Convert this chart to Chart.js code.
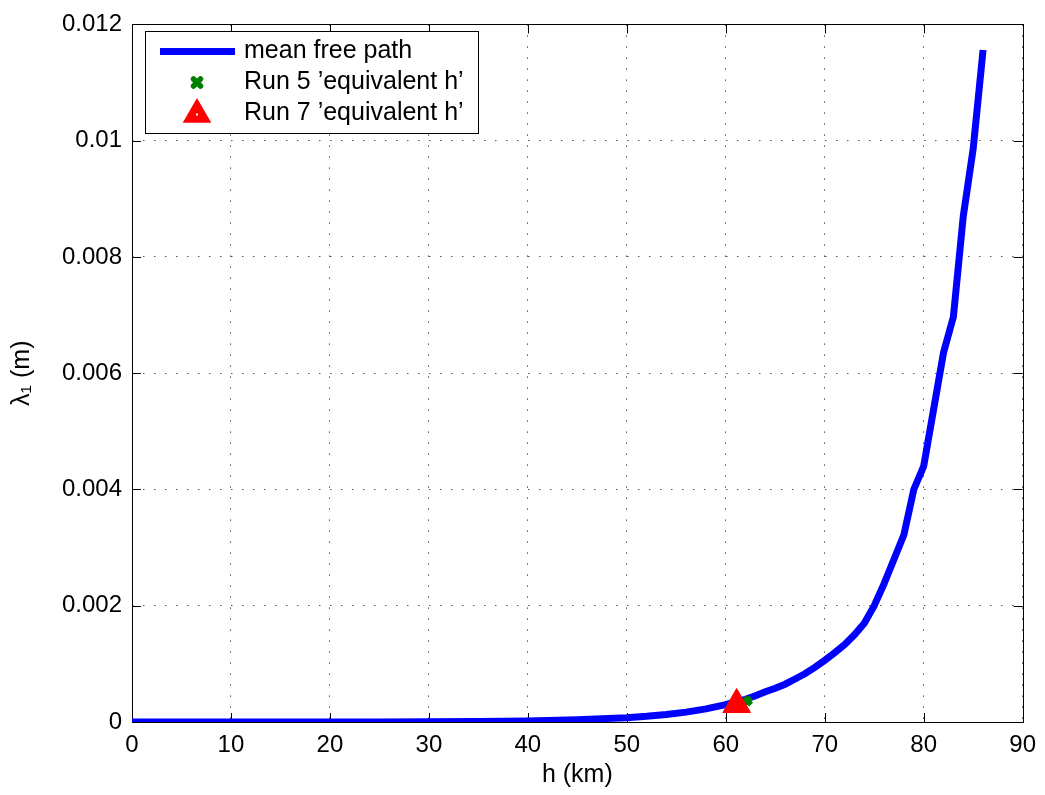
<!DOCTYPE html>
<html>
<head>
<meta charset="utf-8">
<script src="https://cdn.jsdelivr.net/npm/chart.js@4.4.1/dist/chart.umd.min.js"></script>
<style>
  html, body { margin: 0; padding: 0; background: #fff; }
  #wrap { width: 1045px; height: 795px; }
</style>
</head>
<body>
<div id="wrap"><canvas id="chart" width="1045" height="795"></canvas></div>
<script>
// altitude (km) and mean free path (m)
const heightKm = [0, 5, 10, 15, 20, 25, 30, 35, 40, 45, 50, 52, 54, 56, 58, 60, 61, 62, 63, 64, 65, 66, 67, 68, 69, 70,
  71, 72, 73, 74, 75, 76, 77, 78, 79, 80, 82, 83, 84, 85, 86];
const meanFreePath = [6.6e-8, 1.1e-7, 2.0e-7, 4.3e-7, 9.1e-7, 1.9e-6, 4.3e-6, 9.0e-6, 1.9e-5, 3.8e-5, 7.5e-5, 9.8e-5,
  1.3e-4, 1.7e-4, 2.25e-4, 3.0e-4, 3.5e-4, 3.9e-4, 4.5e-4, 5.2e-4, 5.8e-4, 6.5e-4, 7.4e-4, 8.3e-4, 9.4e-4, 1.06e-3,
  1.19e-3, 1.33e-3, 1.5e-3, 1.7e-3, 2.0e-3, 2.38e-3, 2.8e-3, 3.22e-3, 4.0e-3, 4.4e-3, 6.35e-3, 6.97e-3, 8.7e-3,
  9.86e-3, 1.156e-2];

const run5 = { h: 62.2, lambda: 0.00036 };
const run7 = { h: 61.1, lambda: 0.0003 };

const xTicks = [0, 10, 20, 30, 40, 50, 60, 70, 80, 90];
const yTicks = [0, 0.002, 0.004, 0.006, 0.008, 0.01, 0.012];

const legendLabels = ['mean free path', "Run 5 \u2019equivalent h\u2019", "Run 7 \u2019equivalent h\u2019"];

const FONT = "'Liberation Sans', Arial, Helvetica, sans-serif";
const BLUE = '#0000ff';
const GREEN = '#007f00';
const RED = '#ff0000';

// MATLAB style box with inward ticks on all four sides
const boxPlugin = {
  id: 'box',
  beforeDatasetsDraw(chart) {
    const { ctx, chartArea: a, scales: { x, y } } = chart;
    const len = 9;
    ctx.save();
    ctx.strokeStyle = '#000';
    ctx.lineWidth = 1;
    ctx.beginPath();
    xTicks.forEach((t) => {
      const px = Math.round(x.getPixelForValue(t)) + 0.5;
      ctx.moveTo(px, a.bottom); ctx.lineTo(px, a.bottom - len);
      ctx.moveTo(px, a.top); ctx.lineTo(px, a.top + len);
    });
    yTicks.forEach((t) => {
      const py = Math.round(y.getPixelForValue(t)) + 0.5;
      ctx.moveTo(a.left, py); ctx.lineTo(a.left + len, py);
      ctx.moveTo(a.right, py); ctx.lineTo(a.right - len, py);
    });
    ctx.stroke();
    ctx.strokeRect(Math.round(a.left) + 0.5, Math.round(a.top) + 0.5,
      Math.round(a.right - a.left), Math.round(a.bottom - a.top));
    ctx.restore();
  },
};

const legendPlugin = {
  id: 'boxLegend',
  afterDraw(chart) {
    const { ctx } = chart;
    const bx = 145.5, by = 31.5, bw = 333, bh = 102;
    const rows = [51.5, 82.5, 113.5];
    const mx = 197;
    ctx.save();
    ctx.fillStyle = '#fff';
    ctx.fillRect(bx, by, bw, bh);
    ctx.strokeStyle = '#000';
    ctx.lineWidth = 1;
    ctx.strokeRect(bx, by, bw, bh);

    // line sample
    ctx.strokeStyle = BLUE;
    ctx.lineWidth = 7;
    ctx.beginPath();
    ctx.moveTo(160, rows[0]); ctx.lineTo(235, rows[0]);
    ctx.stroke();

    // green x
    ctx.strokeStyle = GREEN;
    ctx.lineWidth = 5.5;
    ctx.lineCap = 'round';
    ctx.beginPath();
    ctx.moveTo(mx - 3.5, rows[1] - 3.5); ctx.lineTo(mx + 3.5, rows[1] + 3.5);
    ctx.moveTo(mx + 3.5, rows[1] - 3.5); ctx.lineTo(mx - 3.5, rows[1] + 3.5);
    ctx.stroke();

    // red triangle
    const r = 16.5;
    const cy = rows[2] + 1;
    ctx.fillStyle = RED;
    ctx.beginPath();
    ctx.moveTo(mx, cy - r);
    ctx.lineTo(mx + r * Math.sin(Math.PI * 2 / 3), cy + r / 2);
    ctx.lineTo(mx - r * Math.sin(Math.PI * 2 / 3), cy + r / 2);
    ctx.closePath();
    ctx.fill();
    ctx.fillStyle = '#fff';
    ctx.fillRect(mx - 1, cy - 1, 2, 2);

    ctx.fillStyle = '#000';
    ctx.font = '25px ' + FONT;
    ctx.textBaseline = 'middle';
    legendLabels.forEach((t, i) => ctx.fillText(t, 244, rows[i]));
    ctx.restore();
  },
};

const ctx = document.getElementById('chart').getContext('2d');

new Chart(ctx, {
  type: 'scatter',
  data: {
    datasets: [
      {
        label: legendLabels[0],
        data: heightKm.map((h, i) => ({ x: h, y: meanFreePath[i] })),
        showLine: true,
        borderColor: BLUE,
        borderWidth: 7,
        pointRadius: 0,
        tension: 0,
        order: 3,
      },
      {
        label: legendLabels[1],
        data: [{ x: run5.h, y: run5.lambda }],
        pointStyle: 'crossRot',
        pointRadius: 5,
        borderColor: GREEN,
        backgroundColor: GREEN,
        pointBorderWidth: 5.5,
        order: 2,
      },
      {
        label: legendLabels[2],
        data: [{ x: run7.h, y: run7.lambda }],
        pointStyle: 'triangle',
        pointRadius: 16,
        borderColor: RED,
        backgroundColor: RED,
        pointBorderWidth: 1,
        order: 1,
      },
    ],
  },
  options: {
    responsive: false,
    animation: false,
    layout: { padding: { top: 19, right: 22, left: 0, bottom: 0 } },
    scales: {
      x: {
        type: 'linear',
        min: 0,
        max: 90,
        afterBuildTicks: (scale) => { scale.ticks = xTicks.map((v) => ({ value: v })); },
        afterFit: (scale) => { scale.height = 73; },
        grid: { color: '#555', lineWidth: 1, drawTicks: false },
        border: { display: false, dash: [1.5, 9.5] },
        ticks: {
          color: '#000',
          font: { family: FONT, size: 24 },
          padding: 9,
          maxRotation: 0,
          callback: (v) => String(v),
        },
        title: {
          display: true,
          text: 'h (km)',
          color: '#000',
          font: { family: FONT, size: 25 },
          padding: { top: 0, bottom: 5 },
        },
      },
      y: {
        type: 'linear',
        min: 0,
        max: 0.012,
        afterBuildTicks: (scale) => { scale.ticks = yTicks.map((v) => ({ value: v })); },
        afterFit: (scale) => { scale.width = 132; },
        grid: { color: '#555', lineWidth: 1, drawTicks: false },
        border: { display: false, dash: [1.5, 9.5] },
        ticks: {
          color: '#000',
          font: { family: FONT, size: 24 },
          padding: 10,
          callback: (v) => (v === 0 ? '0' : String(parseFloat(v.toFixed(4)))),
        },
        title: {
          display: true,
          text: '\u03bb\u2081 (m)',
          color: '#000',
          font: { family: FONT, size: 25 },
          padding: { top: 7, bottom: 0 },
        },
      },
    },
    plugins: {
      legend: { display: false },
      tooltip: { enabled: false },
    },
  },
  plugins: [boxPlugin, legendPlugin],
});
</script>
</body>
</html>
